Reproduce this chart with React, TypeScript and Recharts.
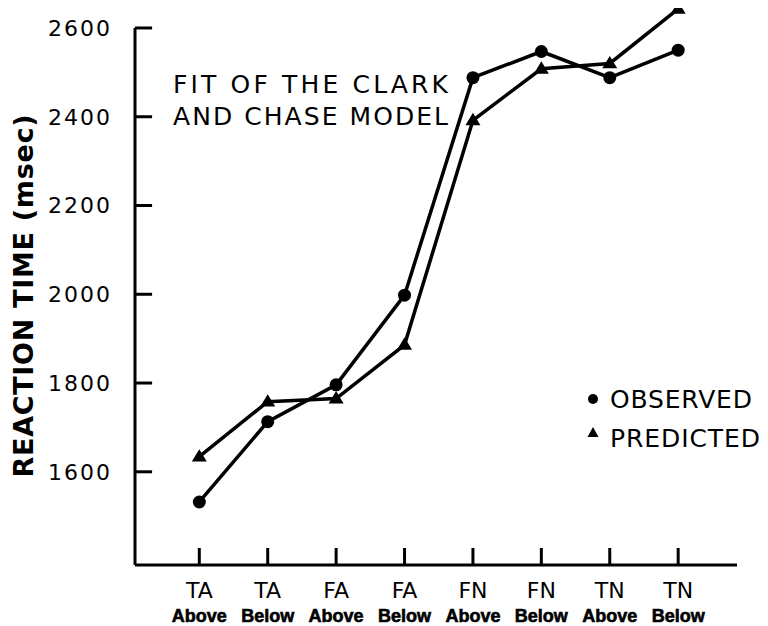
import React from 'react';
import { LineChart, Line, XAxis, YAxis, ReferenceLine, Customized } from 'recharts';

const conditions = ['TA', 'TA', 'FA', 'FA', 'FN', 'FN', 'TN', 'TN'];
const positions = ['Above', 'Below', 'Above', 'Below', 'Above', 'Below', 'Above', 'Below'];
const observed = [1532, 1713, 1796, 1998, 2488, 2547, 2488, 2550];
const predicted = [1634, 1758, 1765, 1886, 2392, 2508, 2520, 2643];
const yTicks = [1600, 1800, 2000, 2200, 2400, 2600];
const xTicks = [0, 1, 2, 3, 4, 5, 6, 7];

const data = conditions.map((c, i) => ({
  i,
  cond: c,
  pos: positions[i],
  observed: observed[i],
  predicted: predicted[i],
}));

const X_MIN = -0.94;
const X_MAX = 7.86;
const Y_MIN = 1390;
const Y_MAX = 2645;
const Y_TICK_LEN = 0.25;
const FONT = '"DejaVu Sans", sans-serif';

const YTick = (props: any) => {
  const { x, y, payload } = props;
  return (
    <g>
      <text x={x - 23} y={y} dy="0.36em" textAnchor="end" fontFamily={FONT} fontSize={22} fill="#000" letterSpacing={2}>
        {payload.value}
      </text>
    </g>
  );
};

const XTick = (props: any) => {
  const { x, y, payload } = props;
  const i = payload.value as number;
  return (
    <g>
      <line x1={x} y1={y} x2={x} y2={y - 17} stroke="#000" strokeWidth={3} />
      <text x={x} y={y + 33} textAnchor="middle" fontFamily={FONT} fontSize={22} fill="#000">
        {conditions[i]}
      </text>
      <text x={x} y={y + 57} textAnchor="middle" fontFamily='"Liberation Sans", Arial, sans-serif' fontWeight="bold" fontSize={18} fill="#000" stroke="#000" strokeWidth={0.6}>
        {positions[i]}
      </text>
    </g>
  );
};

const CircleDot = (props: any) => {
  const { cx, cy, index } = props;
  return <circle key={`c${index}`} cx={cx} cy={cy} r={6.5} fill="#000" />;
};

const TriDot = (props: any) => {
  const { cx, cy, index } = props;
  const s = 7.5;
  return (
    <path
      key={`t${index}`}
      d={`M${cx},${cy - s} L${cx + s},${cy + s * 0.65} L${cx - s},${cy + s * 0.65} Z`}
      fill="#000"
    />
  );
};

const Annotations = () => (
  <g fill="#000" fontFamily={FONT}>
    <text
      x={15}
      y={288}
      transform="rotate(-90, 15, 288)"
      textAnchor="middle"
      dominantBaseline="central"
      fontSize={27}
      fontWeight="bold"
      textLength={363}
      lengthAdjust="spacing"
    >
      REACTION TIME (msec)
    </text>
    <text x={165} y={85} fontSize={25} textLength={275} lengthAdjust="spacing">
      FIT OF THE CLARK
    </text>
    <text x={165} y={117} fontSize={25} textLength={275} lengthAdjust="spacing">
      AND CHASE MODEL
    </text>
    <circle cx={585} cy={391} r={5} fill="#000" />
    <text x={602} y={400} fontSize={25} textLength={142} lengthAdjust="spacing">
      OBSERVED
    </text>
    <path d="M585,419 L590.5,429 L579.5,429 Z" fill="#000" />
    <text x={602} y={439} fontSize={25} textLength={150} lengthAdjust="spacing">
      PREDICTED
    </text>
  </g>
);

export default function App() {
  return (
    <LineChart width={760} height={618} data={data} margin={{ top: 0, right: 31, bottom: 0, left: 0 }}>
      <XAxis
        dataKey="i"
        type="number"
        domain={[X_MIN, X_MAX]}
        ticks={xTicks}
        interval={0}
        axisLine={{ stroke: '#000', strokeWidth: 3 }}
        tickLine={false}
        tickSize={0}
        tickMargin={0}
        height={61}
        tick={<XTick />}
      />
      <YAxis
        type="number"
        domain={[Y_MIN, Y_MAX]}
        ticks={yTicks}
        interval={0}
        axisLine={false}
        tickLine={false}
        tickSize={0}
        tickMargin={0}
        width={127}
        tick={<YTick />}
      />
      <ReferenceLine
        segment={[
          { x: X_MIN, y: Y_MIN },
          { x: X_MIN, y: 2600 },
        ]}
        stroke="#000"
        strokeWidth={3}
        ifOverflow="visible"
      />
      {yTicks.map((v) => (
        <ReferenceLine
          key={`yt${v}`}
          segment={[
            { x: X_MIN, y: v },
            { x: X_MIN + Y_TICK_LEN, y: v },
          ]}
          stroke="#000"
          strokeWidth={3}
          ifOverflow="visible"
        />
      ))}
      <Line
        type="linear"
        dataKey="observed"
        stroke="#000"
        strokeWidth={3.5}
        dot={CircleDot}
        activeDot={false}
        isAnimationActive={false}
      />
      <Line
        type="linear"
        dataKey="predicted"
        stroke="#000"
        strokeWidth={3.5}
        dot={TriDot}
        activeDot={false}
        isAnimationActive={false}
      />
      <Customized component={<Annotations />} />
    </LineChart>
  );
}
